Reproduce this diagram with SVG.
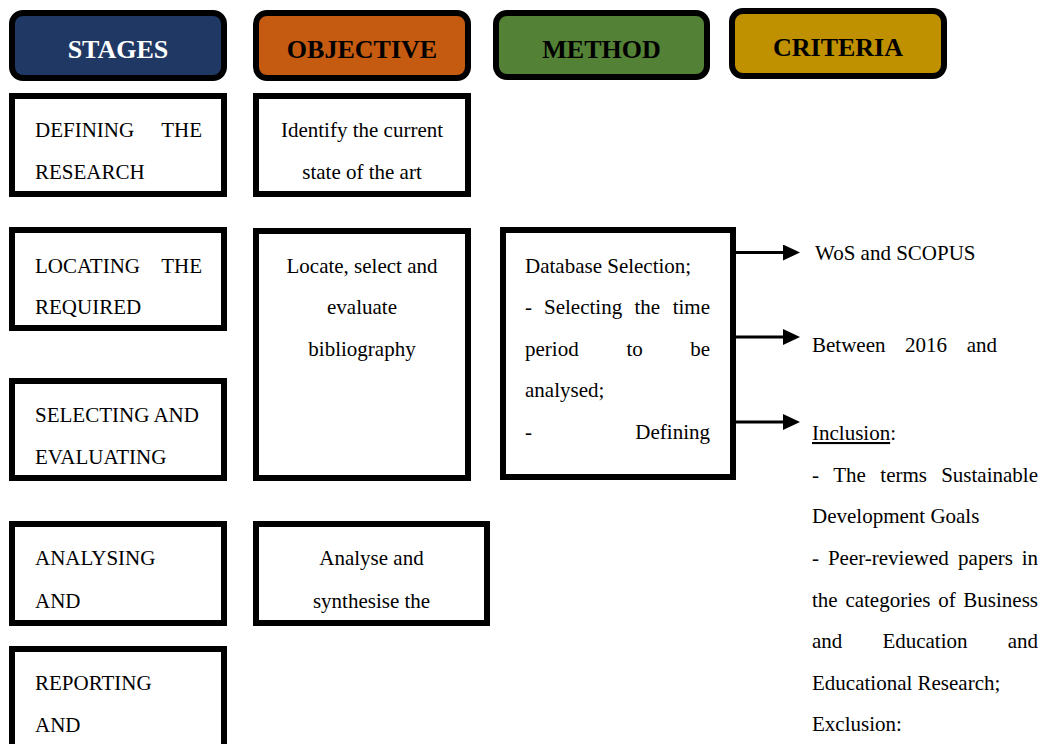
<svg xmlns="http://www.w3.org/2000/svg" width="1042" height="744" viewBox="0 0 1042 744">
<defs>
<style>
.hdr{stroke:#000;stroke-width:6}
.box{fill:#fff;stroke:#000;stroke-width:6}
.ht{font-family:'Liberation Serif','DejaVu Serif',serif;font-size:26px;font-weight:bold;text-anchor:middle}
.t{font-family:'Liberation Serif','DejaVu Serif',serif;font-size:21px;fill:#000}
.c{text-anchor:middle}
.e{text-anchor:end}
.conn{stroke:#000;stroke-width:3;fill:none}
</style>
<marker id="arr" markerUnits="userSpaceOnUse" markerWidth="18" markerHeight="16" refX="3" refY="8" orient="auto">
<path d="M0,0 L17,8 L0,16 Z" fill="#000"/>
</marker>
</defs>
<rect width="1042" height="744" fill="#fff"/>

<g id="hdr-stages">
<rect class="hdr" x="12" y="13" width="212" height="65" rx="11" fill="#1F3864"/>
<text class="ht" x="118" y="58" fill="#fff" font-family="Liberation Serif, DejaVu Serif, serif">STAGES</text>
</g>
<g id="hdr-objective">
<rect class="hdr" x="256" y="13" width="212" height="65" rx="11" fill="#C55A11"/>
<text class="ht" x="362" y="58" fill="#000">OBJECTIVE</text>
</g>
<g id="hdr-method">
<rect class="hdr" x="496" y="13" width="211" height="64" rx="11" fill="#538135"/>
<text class="ht" x="601.5" y="58" fill="#000">METHOD</text>
</g>
<g id="hdr-criteria">
<rect class="hdr" x="732" y="11" width="212" height="65" rx="11" fill="#BF9000"/>
<text class="ht" x="838" y="56" fill="#000">CRITERIA</text>
</g>

<g id="stage-defining">
<rect class="box" x="12" y="96" width="212" height="98"/>
<text class="t" x="35" y="137">DEFINING</text>
<text class="t e" x="202" y="137">THE</text>
<text class="t" x="35" y="179">RESEARCH</text>
</g>
<g id="obj-identify">
<rect class="box" x="256" y="96" width="212" height="98"/>
<text class="t c" x="362" y="137">Identify the current</text>
<text class="t c" x="362" y="179">state of the art</text>
</g>

<g id="stage-locating">
<rect class="box" x="12" y="230" width="212" height="98"/>
<text class="t" x="35" y="273">LOCATING</text>
<text class="t e" x="202" y="273">THE</text>
<text class="t" x="35" y="314">REQUIRED</text>
</g>
<g id="obj-locate">
<rect class="box" x="256" y="231" width="212" height="247"/>
<text class="t c" x="362" y="273">Locate, select and</text>
<text class="t c" x="362" y="314">evaluate</text>
<text class="t c" x="362" y="356">bibliography</text>
</g>
<g id="stage-selecting">
<rect class="box" x="12" y="381" width="212" height="97"/>
<text class="t" x="35" y="422">SELECTING AND</text>
<text class="t" x="35" y="464">EVALUATING</text>
</g>

<g id="method-database">
<rect class="box" x="503" y="230" width="230" height="247"/>
<text class="t" x="525" y="273">Database Selection;</text>
<text class="t" x="525" y="314">-</text>
<text class="t" x="544" y="314">Selecting</text>
<text class="t" x="634.5" y="314">the</text>
<text class="t e" x="710" y="314">time</text>
<text class="t" x="525" y="356">period</text>
<text class="t" x="626.5" y="356">to</text>
<text class="t e" x="710" y="356">be</text>
<text class="t" x="525" y="397">analysed;</text>
<text class="t" x="525" y="439">-</text>
<text class="t e" x="710" y="439">Defining</text>
</g>

<g id="stage-analysing">
<rect class="box" x="12" y="524" width="212" height="99"/>
<text class="t" x="35" y="565">ANALYSING</text>
<text class="t" x="35" y="608">AND</text>
</g>
<g id="obj-analyse">
<rect class="box" x="256" y="524" width="231" height="99"/>
<text class="t c" x="371.5" y="565">Analyse and</text>
<text class="t c" x="371.5" y="608">synthesise the</text>
</g>
<g id="stage-reporting">
<rect class="box" x="12" y="649" width="212" height="130"/>
<text class="t" x="35" y="690">REPORTING</text>
<text class="t" x="35" y="732">AND</text>
</g>

<g id="connectors">
<line class="conn" x1="736" y1="252.5" x2="786" y2="252.5" marker-end="url(#arr)"/>
<line class="conn" x1="736" y1="337" x2="786" y2="337" marker-end="url(#arr)"/>
<line class="conn" x1="736" y1="422" x2="786" y2="422" marker-end="url(#arr)"/>
</g>

<g id="criteria-db">
<text class="t" x="815" y="260">WoS and SCOPUS</text>
</g>
<g id="criteria-period">
<text class="t" x="812" y="352">Between</text>
<text class="t" x="905" y="352">2016</text>
<text class="t e" x="997" y="352">and</text>
</g>
<g id="criteria-terms">
<text class="t" x="812" y="440"><tspan text-decoration="underline">Inclusion</tspan>:</text>
<text class="t" x="812" y="481.5">-</text>
<text class="t" x="833.3" y="481.5">The</text>
<text class="t" x="880.3" y="481.5">terms</text>
<text class="t e" x="1038" y="481.5">Sustainable</text>
<text class="t" x="812" y="523">Development Goals</text>
<text class="t" x="812" y="565">-</text>
<text class="t" x="827.9" y="565">Peer-reviewed</text>
<text class="t" x="958.1" y="565">papers</text>
<text class="t e" x="1038" y="565">in</text>
<text class="t" x="812" y="606.5">the</text>
<text class="t" x="845.4" y="606.5">categories</text>
<text class="t" x="938.2" y="606.5">of</text>
<text class="t e" x="1038" y="606.5">Business</text>
<text class="t" x="812" y="648">and</text>
<text class="t" x="882.4" y="648">Education</text>
<text class="t e" x="1038" y="648">and</text>
<text class="t" x="812" y="689.5">Educational Research;</text>
<text class="t" x="812" y="731">Exclusion:</text>
</g>
</svg>
